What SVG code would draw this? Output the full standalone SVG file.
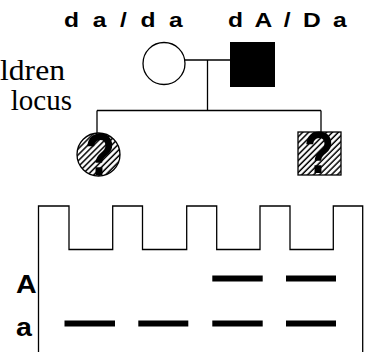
<svg xmlns="http://www.w3.org/2000/svg" width="368" height="352" viewBox="0 0 368 352">
<defs>
<pattern id="hatch" patternUnits="userSpaceOnUse" width="4.2" height="4.2" patternTransform="rotate(45)">
<rect width="4.2" height="4.2" fill="#fff"/>
<line x1="1" y1="0" x2="1" y2="4.2" stroke="#000" stroke-width="1.5"/>
</pattern>
</defs>
<style>
.ln{fill:none;stroke:#000;stroke-width:1.3}
.hdr{font-family:"Liberation Sans",Arial,sans-serif;font-weight:bold;font-size:20.5px;fill:#000}
.side{font-family:"Liberation Serif","Times New Roman",serif;font-size:29px;fill:#000}
.q{font-family:"Liberation Sans",Arial,sans-serif;font-weight:bold;font-size:60px;fill:#000}
.band{fill:#000}
.al{font-family:"Liberation Sans",Arial,sans-serif;font-weight:bold;font-size:26px;fill:#000}
</style>
<rect width="368" height="352" fill="#fff"/>
<text class="hdr" x="64" y="27" textLength="99" lengthAdjust="spacing" transform="translate(64 0) scale(1.2 1) translate(-64 0)">d a / d a</text>
<text class="hdr" x="228" y="27" textLength="99" lengthAdjust="spacing" transform="translate(228 0) scale(1.2 1) translate(-228 0)">d A / D a</text>
<text class="side" x="65" y="80" text-anchor="end" textLength="65" lengthAdjust="spacingAndGlyphs">ldren</text>
<text class="side" x="72" y="110" text-anchor="end">locus</text>
<g id="connectors">
<line class="ln" x1="185" y1="60" x2="230" y2="60"/>
<line class="ln" x1="207.5" y1="60" x2="207.5" y2="110.5"/>
<line class="ln" x1="97" y1="110.5" x2="321" y2="110.5"/>
<line class="ln" x1="97" y1="110.5" x2="97" y2="133"/>
<line class="ln" x1="321" y1="110.5" x2="321" y2="132"/>
</g>
<g id="mother"><circle class="ln" cx="164" cy="63.5" r="21"/></g>
<g id="father"><rect x="230" y="42" width="45" height="45" fill="#000"/></g>
<g id="daughter">
<circle cx="98.5" cy="154.5" r="21.5" fill="url(#hatch)" stroke="#000" stroke-width="1.3"/>
<text class="q" x="100" y="175" text-anchor="middle" transform="translate(100 0) scale(0.82 1) translate(-100 0)">?</text>
</g>
<g id="son">
<rect x="298" y="132" width="43" height="43" fill="url(#hatch)" stroke="#000" stroke-width="1.3"/>
<text class="q" x="319" y="173" text-anchor="middle" transform="translate(319 0) scale(0.82 1) translate(-319 0)">?</text>
</g>
<g id="gel">
<path class="ln" d="M38.5 352 V206 H69 V249.5 H112.7 V206 H142.5 V249.5 H186.7 V206 H216.7 V249.5 H260 V206 H290 V249.5 H333.3 V206 H362.7 V352"/>
<rect class="band" x="212.3" y="275.5" width="50.4" height="6"/>
<rect class="band" x="286" y="275.5" width="50" height="6"/>
<rect class="band" x="64.5" y="320.5" width="50.5" height="6"/>
<rect class="band" x="138.3" y="320.5" width="50" height="6"/>
<rect class="band" x="212.3" y="320.5" width="50.4" height="6"/>
<rect class="band" x="286" y="320.5" width="50" height="6"/>
<text class="al" x="16" y="293" transform="translate(16 0) scale(1.1 1) translate(-16 0)">A</text>
<text class="al" x="16" y="336" transform="translate(16 0) scale(1.1 1) translate(-16 0)">a</text>
</g>
</svg>
